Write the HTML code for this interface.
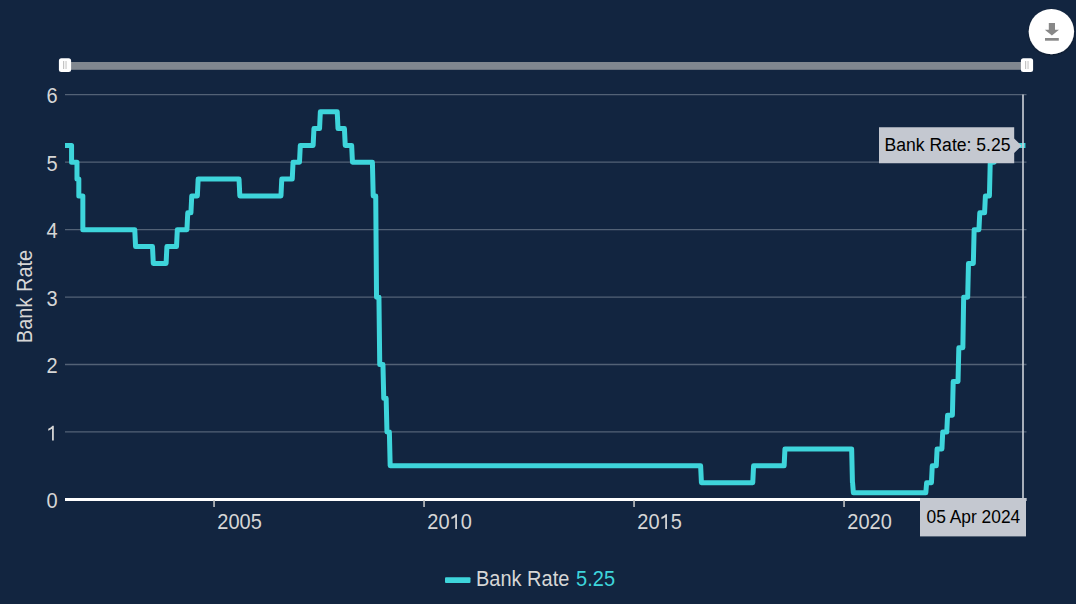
<!DOCTYPE html>
<html><head><meta charset="utf-8">
<style>
html,body{margin:0;padding:0;background:#122540;width:1076px;height:604px;overflow:hidden;}
svg{display:block;font-family:"Liberation Sans", sans-serif;}
</style></head>
<body>
<svg width="1076" height="604" viewBox="0 0 1076 604">
<defs>
<clipPath id="plot"><rect x="65" y="60" width="961.5" height="460"/></clipPath>
<filter id="sh" x="-30%" y="-30%" width="160%" height="160%"><feDropShadow dx="0" dy="1" stdDeviation="1" flood-color="#000" flood-opacity="0.35"/></filter>
</defs>
<rect x="0" y="0" width="1076" height="604" fill="#122540"/>
<circle cx="1051.4" cy="31.6" r="22.7" fill="#ffffff" filter="url(#sh)"/>
<g fill="#888888"><rect x="1048.8" y="23" width="6.2" height="7"/><path d="M1044.8 29.8 L1059 29.8 L1051.9 35.4 Z"/><rect x="1045" y="38" width="13.8" height="2.7"/></g>
<rect x="65" y="62" width="962" height="7.8" fill="#80878f"/>
<rect x="58.9" y="58.3" width="12.2" height="13.7" rx="2.5" fill="#ffffff"/>
<rect x="63.0" y="61" width="1.2" height="8" fill="#c4c4c4"/>
<rect x="65.3" y="61" width="1.5" height="8" fill="#d6d6d6"/>
<rect x="1020.9" y="58.3" width="12.2" height="13.7" rx="2.5" fill="#ffffff"/>
<rect x="1025.0" y="61" width="1.2" height="8" fill="#c4c4c4"/>
<rect x="1027.3" y="61" width="1.5" height="8" fill="#d6d6d6"/>
<line x1="65" x2="1026.5" y1="431.95" y2="431.95" stroke="#536276" stroke-width="1.3"/>
<line x1="65" x2="1026.5" y1="364.5" y2="364.5" stroke="#536276" stroke-width="1.3"/>
<line x1="65" x2="1026.5" y1="297.05" y2="297.05" stroke="#536276" stroke-width="1.3"/>
<line x1="65" x2="1026.5" y1="229.6" y2="229.6" stroke="#536276" stroke-width="1.3"/>
<line x1="65" x2="1026.5" y1="162.15" y2="162.15" stroke="#536276" stroke-width="1.3"/>
<line x1="65" x2="1026.5" y1="94.7" y2="94.7" stroke="#536276" stroke-width="1.3"/>
<text transform="translate(57.5,508.0) scale(1,1.07)" font-size="20" fill="#d6d6d6" text-anchor="end">0</text>
<path transform="translate(46.377,440.55) scale(0.009766,-0.010449)" fill="#d6d6d6" d="M580 0 L761 0 L761 1409 L625 1409 Q470 1230 190 1140 L190 930 Q420 1000 580 1120 Z"/>
<text transform="translate(57.5,373.1) scale(1,1.07)" font-size="20" fill="#d6d6d6" text-anchor="end">2</text>
<text transform="translate(57.5,305.65) scale(1,1.07)" font-size="20" fill="#d6d6d6" text-anchor="end">3</text>
<text transform="translate(57.5,238.2) scale(1,1.07)" font-size="20" fill="#d6d6d6" text-anchor="end">4</text>
<text transform="translate(57.5,170.75) scale(1,1.07)" font-size="20" fill="#d6d6d6" text-anchor="end">5</text>
<text transform="translate(57.5,103.3) scale(1,1.07)" font-size="20" fill="#d6d6d6" text-anchor="end">6</text>
<text transform="translate(31.9,296.5) rotate(-90) scale(1,1.07)" fill="#d6d6d6" font-size="20" text-anchor="middle">Bank Rate</text>
<rect x="65" y="498" width="961.5" height="3" fill="#ffffff"/>
<rect x="213.3" y="500" width="1.5" height="7" fill="#cccccc"/>
<rect x="423.3" y="500" width="1.5" height="7" fill="#cccccc"/>
<rect x="633.3" y="500" width="1.5" height="7" fill="#cccccc"/>
<rect x="843.3" y="500" width="1.5" height="7" fill="#cccccc"/>
<text transform="translate(217.3,529) scale(1,1.07)" font-size="20" fill="#d6d6d6">2005</text>
<text transform="translate(427.3,529) scale(1,1.07)" font-size="20" fill="#d6d6d6">20</text>
<path transform="translate(449.546,529) scale(0.009766,-0.010449)" fill="#d6d6d6" d="M580 0 L761 0 L761 1409 L625 1409 Q470 1230 190 1140 L190 930 Q420 1000 580 1120 Z"/>
<text transform="translate(460.669,529) scale(1,1.07)" font-size="20" fill="#d6d6d6">0</text>
<text transform="translate(637.3,529) scale(1,1.07)" font-size="20" fill="#d6d6d6">20</text>
<path transform="translate(659.546,529) scale(0.009766,-0.010449)" fill="#d6d6d6" d="M580 0 L761 0 L761 1409 L625 1409 Q470 1230 190 1140 L190 930 Q420 1000 580 1120 Z"/>
<text transform="translate(670.669,529) scale(1,1.07)" font-size="20" fill="#d6d6d6">5</text>
<text transform="translate(847.3,529) scale(1,1.07)" font-size="20" fill="#d6d6d6">2020</text>
<path clip-path="url(#plot)" d="M50.00 145.39 L51.45 145.39 L51.45 111.66 L57.89 111.66 L57.89 128.52 L61.91 128.52 L61.91 145.39 L71.57 145.39 L71.57 162.25 L76.98 162.25 L76.98 179.11 L78.82 179.11 L78.82 195.97 L82.84 195.97 L82.84 229.70 L134.77 229.70 L135.57 246.56 L152.48 246.56 L153.28 263.42 L166.10 263.42 L166.90 246.56 L176.52 246.56 L177.32 229.70 L186.94 229.70 L187.74 212.84 L190.94 212.84 L191.74 195.97 L197.35 195.97 L198.15 179.11 L239.03 179.11 L239.83 195.97 L280.96 195.97 L281.76 179.11 L292.25 179.11 L293.05 162.25 L299.50 162.25 L300.30 145.39 L313.14 145.39 L313.94 128.52 L319.56 128.52 L320.36 111.66 L337.21 111.66 L338.01 128.52 L344.43 128.52 L345.23 145.39 L351.65 145.39 L352.45 162.25 L372.40 162.25 L373.20 195.97 L375.73 195.97 L376.53 297.15 L378.94 297.15 L379.74 364.60 L382.95 364.60 L383.75 398.32 L386.16 398.32 L386.96 432.05 L389.37 432.05 L390.17 465.77 L700.62 465.77 L701.42 482.64 L752.77 482.64 L753.57 465.77 L784.14 465.77 L784.94 448.91 L851.65 448.91 L852.45 482.64 L852.57 482.64 L853.37 492.75 L925.83 492.75 L926.63 482.64 L931.46 482.64 L932.26 465.77 L936.29 465.77 L937.09 448.91 L941.93 448.91 L942.73 432.05 L946.76 432.05 L947.56 415.19 L952.40 415.19 L953.20 381.46 L958.03 381.46 L958.83 347.74 L962.86 347.74 L963.66 297.15 L967.69 297.15 L968.49 263.42 L973.33 263.42 L974.13 229.70 L978.96 229.70 L979.76 212.84 L984.60 212.84 L985.40 195.97 L989.43 195.97 L990.23 162.25 L994.26 162.25 L995.06 145.39 L1022.95 145.39" fill="none" stroke="#3ed5db" stroke-width="5" stroke-linejoin="round" stroke-linecap="square"/>
<rect x="1022.2" y="94.5" width="1.6" height="405" fill="#cbd0d8"/>
<path d="M879 127.2 L1014.2 127.2 L1014.2 138.5 L1021.6 145.8 L1014.2 153.1 L1014.2 163.2 L879 163.2 Z" fill="#c4c8d0"/>
<text transform="translate(884.4,150.7) scale(1,1.07)" font-size="17.6" fill="#000000">Bank Rate: 5.25</text>
<rect x="920" y="498" width="106" height="38.4" fill="#c4c8d0"/>
<text transform="translate(926.5,523.2) scale(1,1.07)" font-size="17.4" fill="#000000">05 Apr 2024</text>
<rect x="445" y="577.3" width="25.5" height="5.6" rx="1" fill="#3ed5db"/>
<text transform="translate(476,585.5) scale(1,1.07)" font-size="20" fill="#d6d6d6">Bank Rate</text>
<text transform="translate(576.1,585.5) scale(1,1.07)" font-size="20" fill="#3ed5db">5.25</text>
</svg>
</body></html>
